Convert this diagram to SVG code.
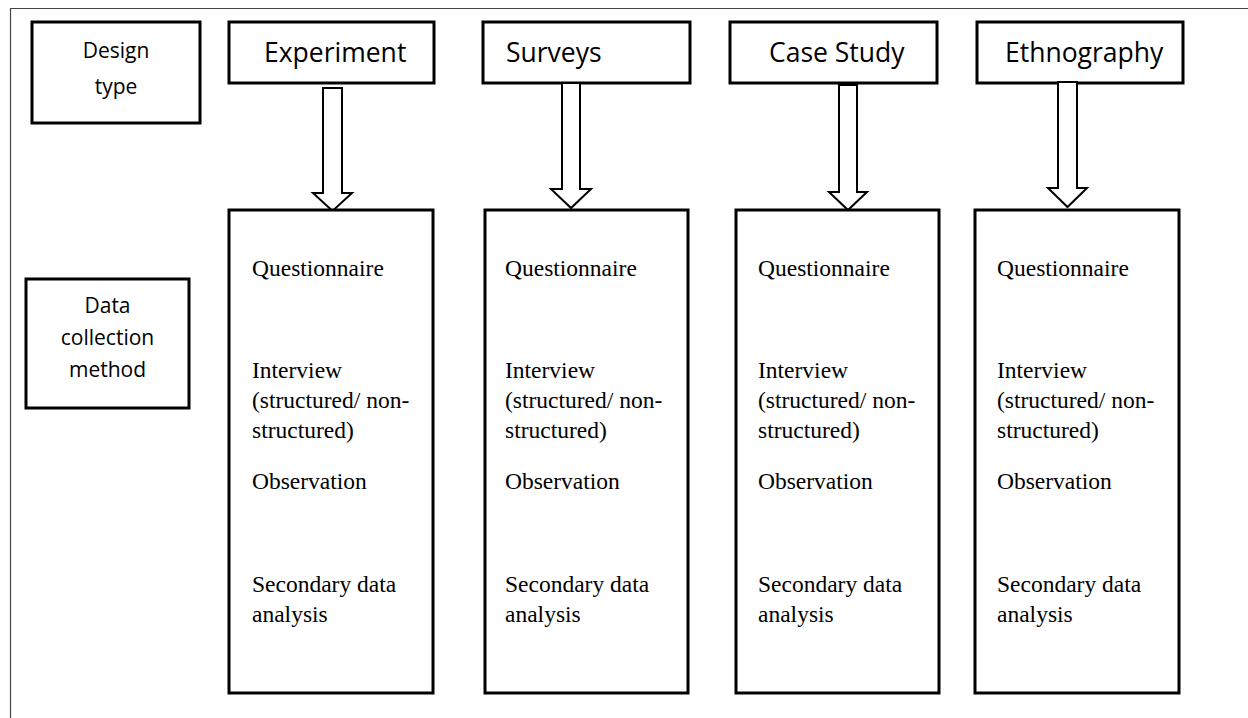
<svg xmlns="http://www.w3.org/2000/svg" width="1248" height="718" viewBox="0 0 1248 718">
  <style>
    .box { fill: #ffffff; stroke: #000000; stroke-width: 3; }
    .arrow { fill: #ffffff; stroke: #000000; stroke-width: 2; stroke-linejoin: miter; }
    .frame { fill: none; stroke: #444444; stroke-width: 1.2; }
    .side { font-family: "Open Sans", "Liberation Sans", sans-serif; font-size: 21px; fill: #000; text-anchor: middle; }
    .head { font-family: "Open Sans", "Liberation Sans", sans-serif; font-size: 26.5px; fill: #000; }
    .item { font-family: "Liberation Serif", "Times New Roman", serif; font-size: 23.5px; fill: #000; }
  </style>

  <rect x="0" y="0" width="1248" height="718" fill="#ffffff"/>
  <!-- page frame: only top and left edges are visible -->
  <path class="frame" d="M10.5,718 V8.5 H1248"/>

  <!-- row labels -->
  <g id="design-type">
    <rect class="box" x="32" y="22" width="168" height="101"/>
    <text class="side" x="116" y="58">Design</text>
    <text class="side" x="116" y="94">type</text>
  </g>
  <g id="data-collection">
    <rect class="box" x="26" y="279" width="163" height="129"/>
    <text class="side" x="107.5" y="313">Data</text>
    <text class="side" x="107.5" y="345">collection</text>
    <text class="side" x="107.5" y="377">method</text>
  </g>

  <!-- design type headers -->
  <g id="experiment">
    <rect class="box" x="229" y="22" width="205" height="61"/>
    <text class="head" x="264" y="62">Experiment</text>
  </g>
  <g id="surveys">
    <rect class="box" x="483" y="22" width="207" height="61"/>
    <text class="head" x="506" y="62">Surveys</text>
  </g>
  <g id="case-study">
    <rect class="box" x="730" y="22" width="207" height="61"/>
    <text class="head" x="769" y="62">Case Study</text>
  </g>
  <g id="ethnography">
    <rect class="box" x="977" y="22" width="206" height="61"/>
    <text class="head" x="1005" y="62">Ethnography</text>
  </g>

  <!-- block arrows from each design type to its methods -->
  <g id="connectors">
    <path class="arrow" d="M323,88 H342 V193 H352 L332.5,211 L313,193 H323 Z"/>
    <path class="arrow" d="M562,83 H580 V189 H591 L571,208 L551,189 H562 Z"/>
    <path class="arrow" d="M839,85 H857 V192 H867 L848,210 L829,192 H839 Z"/>
    <path class="arrow" d="M1058,82 H1077 V188 H1087 L1067.5,207 L1048,188 H1058 Z"/>
  </g>

  <!-- data collection method columns -->
  <g id="methods-experiment">
    <rect class="box" x="229" y="210" width="204" height="483"/>
    <text class="item" x="252" y="276">Questionnaire</text>
    <text class="item" x="252" y="378">Interview</text>
    <text class="item" x="252" y="408">(structured/ non-</text>
    <text class="item" x="252" y="438">structured)</text>
    <text class="item" x="252" y="489">Observation</text>
    <text class="item" x="252" y="592">Secondary data</text>
    <text class="item" x="252" y="622">analysis</text>
  </g>
  <g id="methods-surveys">
    <rect class="box" x="485" y="210" width="203" height="483"/>
    <text class="item" x="505" y="276">Questionnaire</text>
    <text class="item" x="505" y="378">Interview</text>
    <text class="item" x="505" y="408">(structured/ non-</text>
    <text class="item" x="505" y="438">structured)</text>
    <text class="item" x="505" y="489">Observation</text>
    <text class="item" x="505" y="592">Secondary data</text>
    <text class="item" x="505" y="622">analysis</text>
  </g>
  <g id="methods-case-study">
    <rect class="box" x="736" y="210" width="203" height="483"/>
    <text class="item" x="758" y="276">Questionnaire</text>
    <text class="item" x="758" y="378">Interview</text>
    <text class="item" x="758" y="408">(structured/ non-</text>
    <text class="item" x="758" y="438">structured)</text>
    <text class="item" x="758" y="489">Observation</text>
    <text class="item" x="758" y="592">Secondary data</text>
    <text class="item" x="758" y="622">analysis</text>
  </g>
  <g id="methods-ethnography">
    <rect class="box" x="975" y="210" width="204" height="483"/>
    <text class="item" x="997" y="276">Questionnaire</text>
    <text class="item" x="997" y="378">Interview</text>
    <text class="item" x="997" y="408">(structured/ non-</text>
    <text class="item" x="997" y="438">structured)</text>
    <text class="item" x="997" y="489">Observation</text>
    <text class="item" x="997" y="592">Secondary data</text>
    <text class="item" x="997" y="622">analysis</text>
  </g>
</svg>
